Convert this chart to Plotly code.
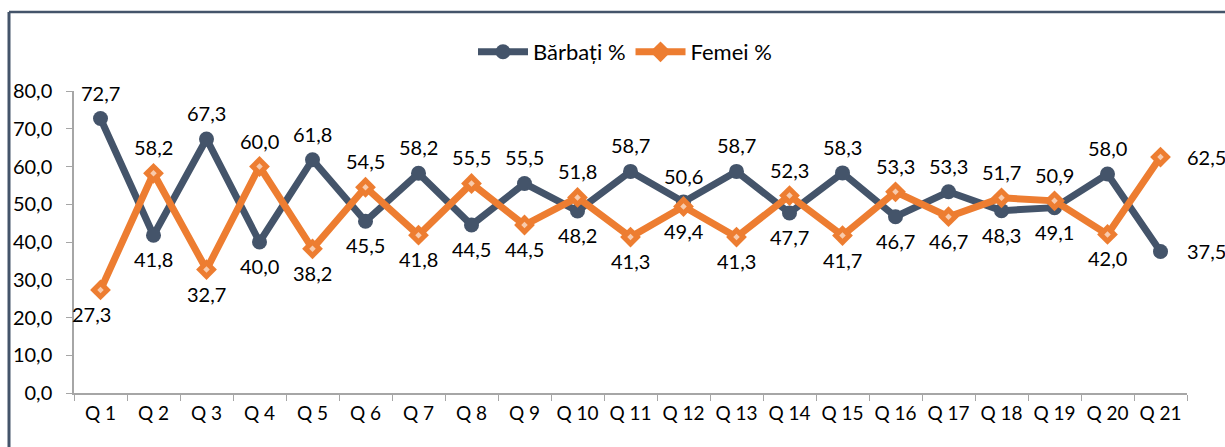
import plotly.graph_objects as go

categories = [f"Q {i}" for i in range(1, 22)]
barbati = [72.7, 41.8, 67.3, 40.0, 61.8, 45.5, 58.2, 44.5, 55.5, 48.2, 58.7,
           50.6, 58.7, 47.7, 58.3, 46.7, 53.3, 48.3, 49.1, 58.0, 37.5]
femei = [27.3, 58.2, 32.7, 60.0, 38.2, 54.5, 41.8, 55.5, 44.5, 51.8, 41.3,
         49.4, 41.3, 52.3, 41.7, 53.3, 46.7, 51.7, 50.9, 42.0, 62.5]
y_ticks = [0, 10, 20, 30, 40, 50, 60, 70, 80]

BLUE = "#44546A"
ORANGE = "#ED7D31"
DOT = "#F8CBAD"
FONT = "Lato"

fig = go.Figure()
fig.add_trace(go.Scatter(
    x=categories, y=barbati, name="Bărbați %", mode="lines+markers",
    line=dict(color=BLUE, width=7),
    marker=dict(symbol="circle", size=15, color=BLUE),
))
fig.add_trace(go.Scatter(
    x=categories, y=femei, name="Femei %", mode="lines+markers",
    line=dict(color=ORANGE, width=7),
    marker=dict(symbol="diamond", size=16, color=ORANGE),
))
fig.add_trace(go.Scatter(
    x=categories, y=femei, mode="markers", showlegend=False, hoverinfo="skip",
    marker=dict(symbol="diamond", size=5, color=DOT),
))


def fmt(v):
    return f"{v:.1f}".replace(".", ",")


annotations = []
n = len(categories)
for series, other in ((barbati, femei), (femei, barbati)):
    for i, (c, v) in enumerate(zip(categories, series)):
        if i == n - 1:
            annotations.append(dict(x=c, y=v, text=fmt(v), showarrow=False,
                                    xanchor="left", yanchor="middle", xshift=24))
        elif v >= other[i]:
            annotations.append(dict(x=c, y=v, text=fmt(v), showarrow=False,
                                    xanchor="center", yanchor="middle", yshift=26))
        else:
            xs = -9 if i == 0 else 0
            annotations.append(dict(x=c, y=v, text=fmt(v), showarrow=False,
                                    xanchor="center", yanchor="middle", yshift=-24,
                                    xshift=xs))

W, H = 1225, 447
L, R, T, B = 74, 38, 91, 54
pw, ph = W - L - R, H - T - B


def px_x(p):
    return (p - L) / pw


def px_y(p):
    return (H - B - p) / ph


shapes = [
    dict(type="line", xref="paper", yref="paper", x0=px_x(9), x1=px_x(9),
         y0=px_y(12), y1=px_y(470), line=dict(color=BLUE, width=3)),
    dict(type="line", xref="paper", yref="paper", x0=px_x(9), x1=px_x(1260),
         y0=px_y(12), y1=px_y(12), line=dict(color=BLUE, width=2.5)),
]

fig.update_layout(
    width=W, height=H,
    margin=dict(l=L, r=R, t=T, b=B, autoexpand=False),
    paper_bgcolor="white", plot_bgcolor="white",
    separators=",.",
    font=dict(family=FONT, size=20, color="#000000"),
    showlegend=True,
    legend=dict(orientation="h", xref="container", yref="container",
                x=625 / W, xanchor="center",
                y=1 - 52 / H, yanchor="middle", font=dict(size=22),
                itemwidth=50, tracegroupgap=0),
    annotations=annotations,
    shapes=shapes,
)
fig.update_xaxes(
    type="category", range=[-0.5, n - 0.5], showgrid=False, automargin=False,
    showline=True, linecolor="#A6A6A6", linewidth=1.5,
    ticks="outside", ticklen=6, tickcolor="#A6A6A6", tickson="boundaries",
    tickfont=dict(size=19), ticklabelstandoff=2, tickangle=0,
)
fig.update_yaxes(
    range=[0, 80], tickvals=y_ticks, tickformat=".1f", showgrid=False,
    automargin=False,
    showline=True, linecolor="#A6A6A6", linewidth=1.5,
    ticks="outside", ticklen=6, tickcolor="#A6A6A6",
    tickfont=dict(size=20), ticklabelstandoff=10, zeroline=False,
)

fig.write_html(
    "out.html",
    config={"displayModeBar": False},
    post_script="document.body.style.margin='0';document.body.style.overflow='hidden';",
)
